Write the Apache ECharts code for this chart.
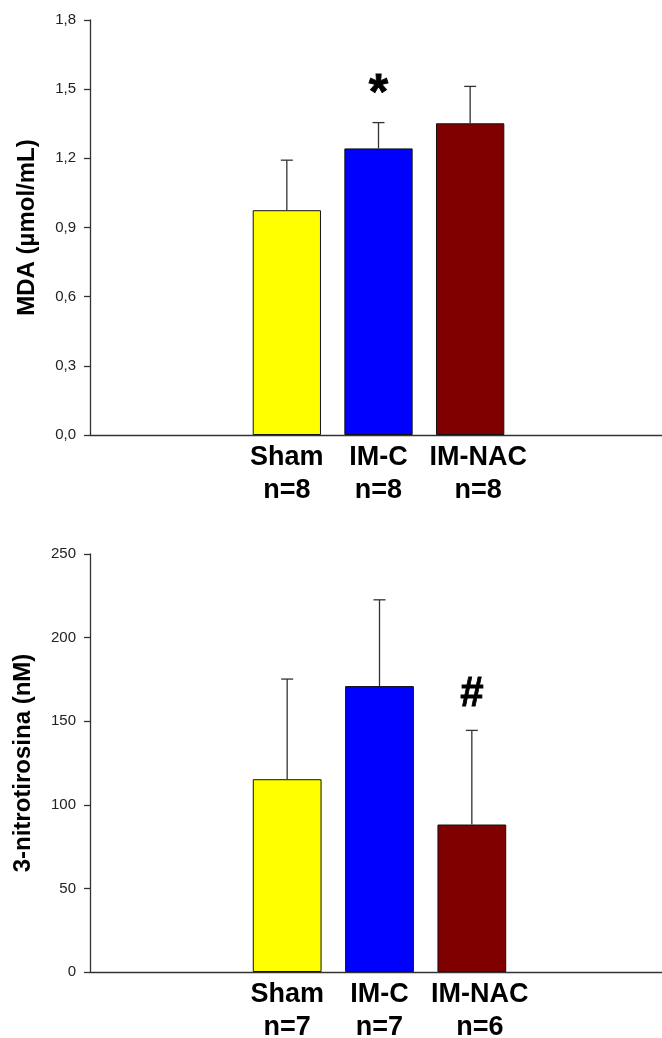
<!DOCTYPE html>
<html>
<head>
<meta charset="utf-8">
<script src="https://cdn.jsdelivr.net/npm/echarts@6/dist/echarts.min.js"></script>
<style>
html,body{margin:0;padding:0;background:#fff;}
#chart{width:662px;height:1038px;}
</style>
</head>
<body>
<div id="chart"></div>
<script>
// ---- data ----
const categories = ['Sham', 'IM-C', 'IM-NAC'];
const mdaN = [8, 8, 8];
const mdaMean = [0.975, 1.243, 1.352];
const mdaUpper = [1.192, 1.355, 1.512];
const mdaMarks = ['', '*', ''];
const ntN = [7, 7, 6];
const ntMean = [115.3, 171.0, 88.2];
const ntUpper = [175.2, 222.6, 144.5];
const ntMarks = ['', '', '#'];
const barColors = ['#FFFF00', '#0000FF', '#800000'];

// ---- styling ----
const FONT = '"Liberation Sans", Arial, Helvetica, sans-serif';
const markStyle = {
  '*': { size: 50, dy: -27 },
  '#': { size: 42, dy: -36 }
};
const labelPadLeft = [0, 0, 16];

const chart = echarts.init(document.getElementById('chart'), null, { renderer: 'canvas' });

function catLabels(n) {
  return categories.map((c, i) => ({
    value: c + '\nn=' + n[i],
    textStyle: { padding: [0, 0, 0, labelPadLeft[i]] }
  }));
}

function errSeries(xi, yi, means, upper, marks) {
  return {
    type: 'custom',
    xAxisIndex: xi,
    yAxisIndex: yi,
    z: 5,
    silent: true,
    data: categories.map((c, i) => [i, means[i], upper[i]]),
    renderItem: function (params, api) {
      const i = api.value(0);
      const base = api.coord([i, api.value(1)]);
      const top = api.coord([i, api.value(2)]);
      const cap = 6;
      const children = [
        { type: 'line', shape: { x1: base[0], y1: base[1], x2: top[0], y2: top[1] },
          style: { stroke: '#333', lineWidth: 1.3 } },
        { type: 'line', shape: { x1: top[0] - cap, y1: top[1], x2: top[0] + cap, y2: top[1] },
          style: { stroke: '#333', lineWidth: 1.3 } }
      ];
      const m = marks[i];
      if (m) {
        const ms = markStyle[m];
        children.push({
          type: 'text',
          style: {
            text: m, x: top[0], y: top[1] + ms.dy,
            textAlign: 'center', textVerticalAlign: 'middle',
            align: 'center', verticalAlign: 'middle',
            font: 'bold ' + ms.size + 'px ' + FONT, fill: '#000',
            stroke: '#000', lineWidth: 0.8
          }
        });
      }
      return { type: 'group', children: children };
    }
  };
}

function baseYAxis(gi, min, max, interval, name, nameGap, fmt) {
  return {
    type: 'value', gridIndex: gi, min: min, max: max, interval: interval,
    name: name, nameLocation: 'middle', nameGap: nameGap,
    nameTextStyle: { fontFamily: FONT, fontWeight: 'bold', fontSize: 24, color: '#000' },
    axisLine: { show: true, lineStyle: { color: '#333', width: 1.3 } },
    axisTick: { show: true, length: 6, lineStyle: { color: '#333', width: 1.3 } },
    axisLabel: { margin: 14, fontFamily: FONT, fontSize: 15, color: '#222', formatter: fmt },
    splitLine: { show: false }
  };
}
function hiddenYAxis(gi, min, max) {
  return { type: 'value', gridIndex: gi, min: min, max: max,
    axisLine: { show: false }, axisTick: { show: false }, axisLabel: { show: false }, splitLine: { show: false } };
}
function lineXAxis(gi) {
  return { type: 'category', gridIndex: gi, data: [''],
    axisLine: { show: true, lineStyle: { color: '#333', width: 1.3 } },
    axisTick: { show: false }, axisLabel: { show: false } };
}
function barXAxis(gi, n) {
  return { type: 'category', gridIndex: gi, data: catLabels(n),
    axisLine: { show: false }, axisTick: { show: false },
    axisLabel: { margin: 6, fontFamily: FONT, fontWeight: 'bold', fontSize: 27, lineHeight: 33, color: '#000', interval: 0 } };
}
function barSeries(xi, yi, vals) {
  return {
    type: 'bar', xAxisIndex: xi, yAxisIndex: yi, barWidth: '74.5%',
    data: vals.map((v, i) => ({ value: v, itemStyle: { color: barColors[i], borderColor: '#111', borderWidth: 1 } })),
    z: 3, silent: true
  };
}

const option = {
  animation: false,
  backgroundColor: '#fff',
  grid: [
    { left: 90, right: 0, top: 20, height: 415, outerBoundsMode: 'none', containLabel: false },
    { left: 241, width: 275, top: 20, height: 415, outerBoundsMode: 'none', containLabel: false },
    { left: 90, right: 0, top: 554, height: 418, outerBoundsMode: 'none', containLabel: false },
    { left: 241, width: 277, top: 554, height: 418, outerBoundsMode: 'none', containLabel: false }
  ],
  xAxis: [lineXAxis(0), barXAxis(1, mdaN), lineXAxis(2), barXAxis(3, ntN)],
  yAxis: [
    baseYAxis(0, 0, 1.8, 0.3, 'MDA (\u00b5mol/mL)', 51, v => v.toFixed(1).replace('.', ',')),
    hiddenYAxis(1, 0, 1.8),
    baseYAxis(2, 0, 250, 50, '3-nitrotirosina (nM)', 55, v => String(v)),
    hiddenYAxis(3, 0, 250)
  ],
  series: [
    barSeries(1, 1, mdaMean),
    errSeries(1, 1, mdaMean, mdaUpper, mdaMarks),
    barSeries(3, 3, ntMean),
    errSeries(3, 3, ntMean, ntUpper, ntMarks)
  ]
};
chart.setOption(option);
</script>
</body>
</html>
